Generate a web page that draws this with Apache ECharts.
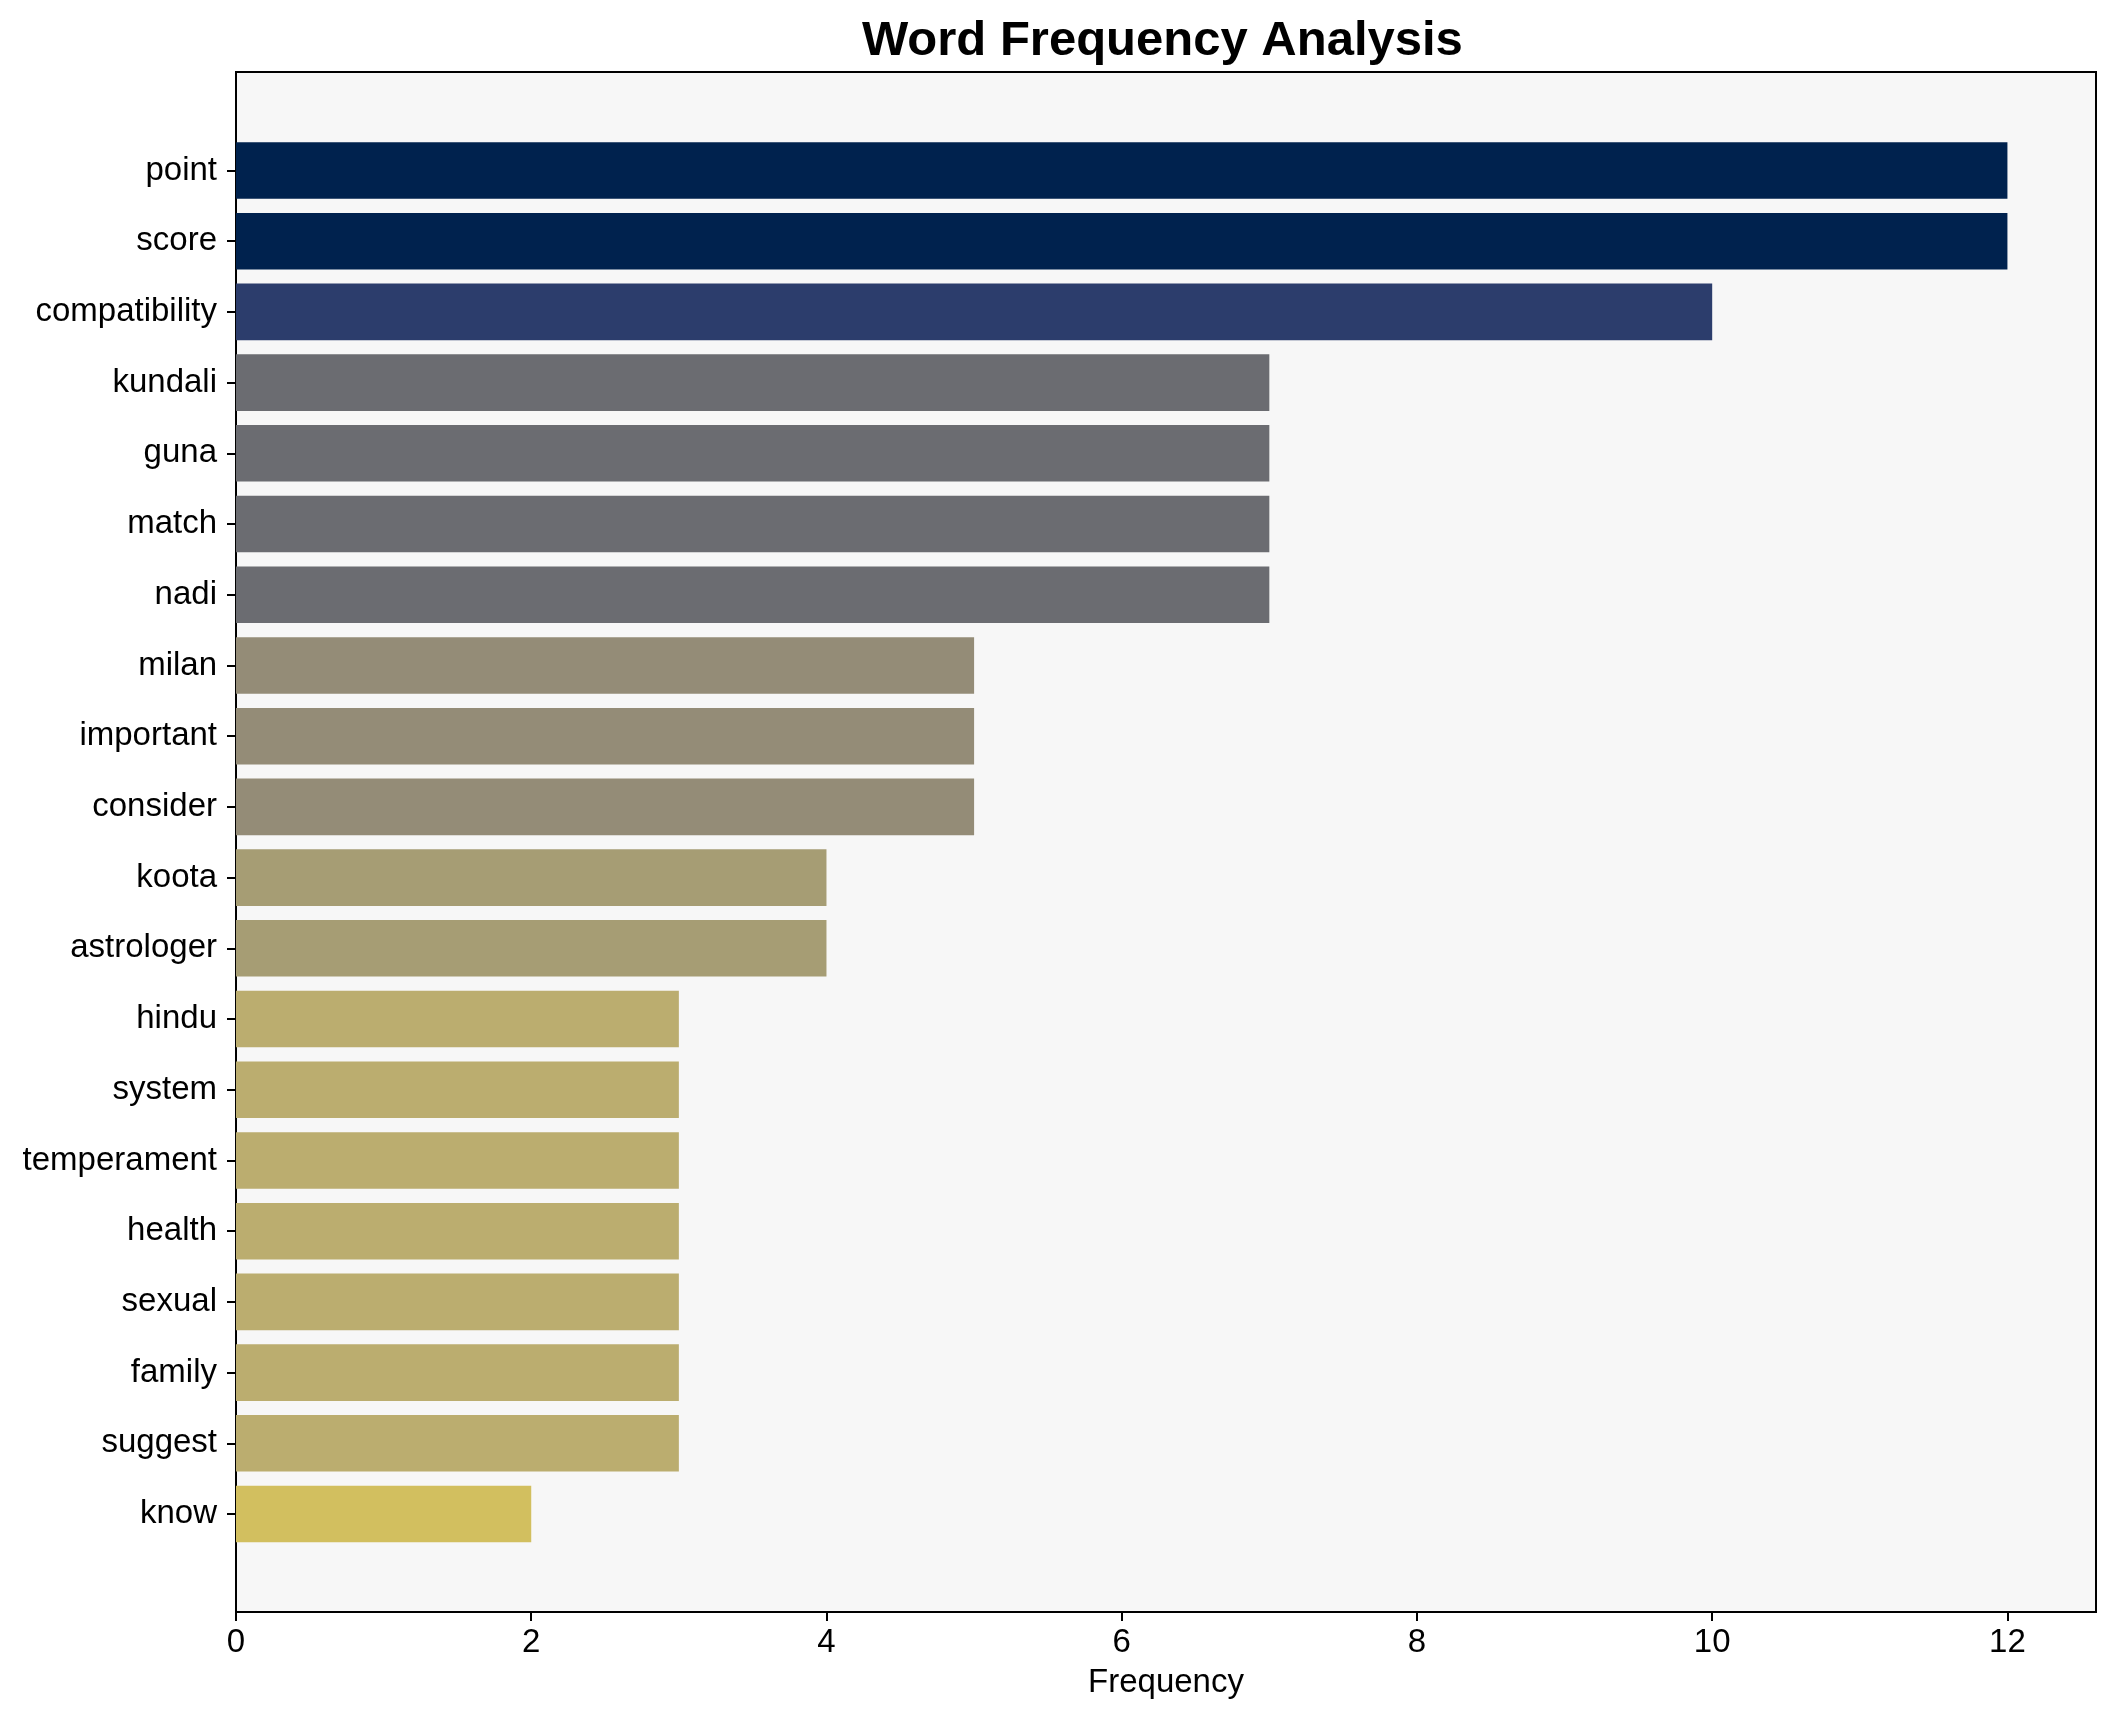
<!DOCTYPE html>
<html>
<head>
<meta charset="utf-8">
<script src="https://cdn.jsdelivr.net/npm/echarts@6/dist/echarts.min.js"></script>
<style>
html,body{margin:0;padding:0;background:#fff;}
#chart{width:2116px;height:1722px;}
</style>
</head>
<body>
<div id="chart"></div>
<script>
const categories = ["point","score","compatibility","kundali","guna","match","nadi","milan","important","consider","koota","astrologer","hindu","system","temperament","health","sexual","family","suggest","know"];
const frequencies = [12,12,10,7,7,7,7,5,5,5,4,4,3,3,3,3,3,3,3,2];
const barColors = ["#00224e","#00224e","#2c3d6c","#6b6c71","#6b6c71","#6b6c71","#6b6c71","#948c77","#948c77","#948c77","#a69d74","#a69d74","#bbad6f","#bbad6f","#bbad6f","#bbad6f","#bbad6f","#bbad6f","#bbad6f","#d2bf5f"];
const xTicks = [0,2,4,6,8,10,12];

const FONT = "Liberation Sans, Arial, sans-serif";
const chart = echarts.init(document.getElementById('chart'));
chart.setOption({
  backgroundColor: '#ffffff',
  animation: false,
  title: {
    text: 'Word Frequency Analysis',
    left: 862, top: 17, padding: 0,
    textStyle: {fontFamily: FONT, fontSize: 49, fontWeight: 'bold', color: '#000'}
  },
  grid: [
    {left: 236, top: 72, width: 1860, height: 1540, show: true, backgroundColor: '#f7f7f7', borderColor: '#000', borderWidth: 2, containLabel: false},
    {left: 236, top: 135.1, width: 1860, height: 1414.3, containLabel: false}
  ],
  xAxis: [
    {
      gridIndex: 0, type: 'value', min: 0, max: 12.6, interval: 2,
      axisLine: {show: true, lineStyle: {color: '#000', width: 2}},
      axisTick: {show: true, length: 9, lineStyle: {color: '#000', width: 2}, customValues: xTicks},
      axisLabel: {fontFamily: FONT, fontSize: 33, color: '#000', margin: 14,
        customValues: xTicks, formatter: v => String(v)},
      splitLine: {show: false},
      name: 'Frequency', nameLocation: 'middle', nameGap: 54,
      nameTextStyle: {fontFamily: FONT, fontSize: 33, color: '#000'}
    },
    {gridIndex: 1, type: 'value', min: 0, max: 12.6, show: false}
  ],
  yAxis: [
    {gridIndex: 0, type: 'value', min: 0, max: 1, show: false},
    {
      gridIndex: 1, type: 'category', data: categories, inverse: true,
      axisLine: {show: false},
      axisTick: {show: true, alignWithLabel: true, length: 9, lineStyle: {color: '#000', width: 2}},
      axisLabel: {fontFamily: FONT, fontSize: 33, color: '#000', margin: 19, padding: [3, 0, 0, 0]},
      splitLine: {show: false}
    }
  ],
  series: [{
    type: 'bar', xAxisIndex: 1, yAxisIndex: 1,
    barWidth: '80%',
    data: frequencies.map((v, i) => ({value: v, itemStyle: {color: barColors[i]}}))
  }]
});
</script>
</body>
</html>
